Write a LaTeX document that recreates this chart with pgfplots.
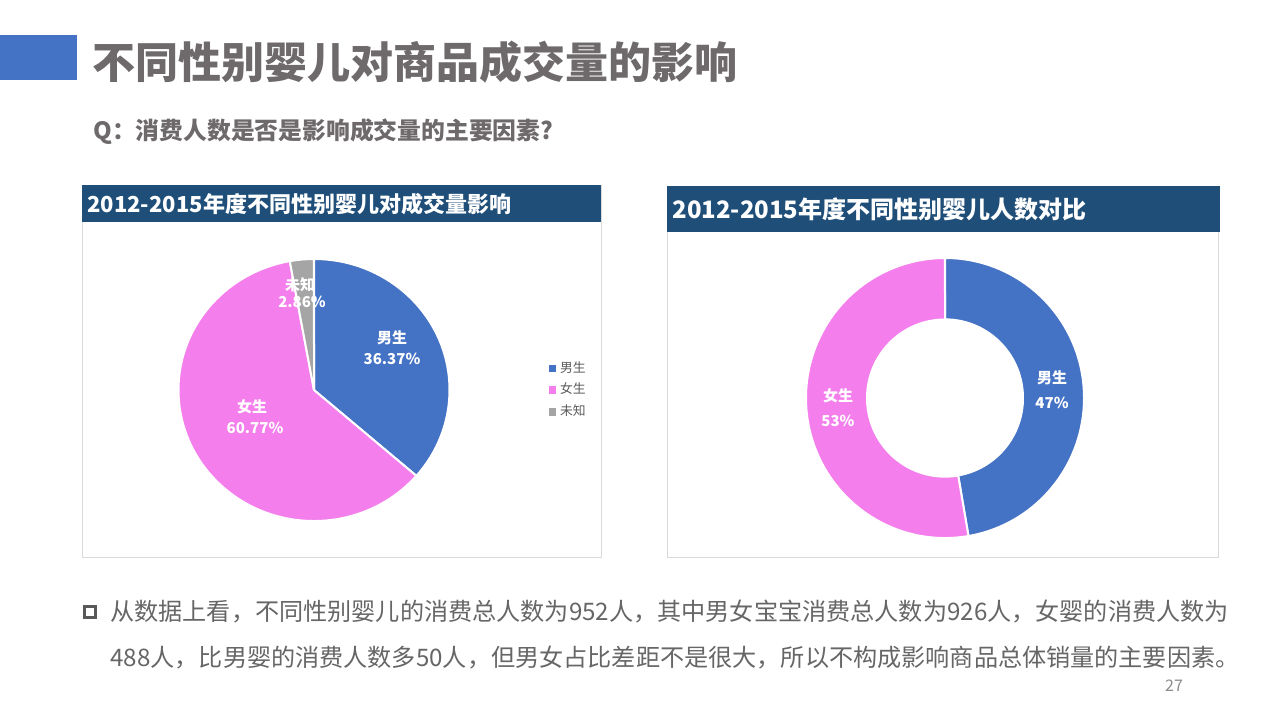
\documentclass[border=0pt]{standalone}
\usepackage{fontspec}
\setmainfont{Noto Sans CJK SC}
\usepackage{pgfplots}
\usepackage{pgfplotstable}
\pgfplotsset{compat=1.18}
\definecolor{pieblue}{HTML}{4472C4}
\definecolor{piepink}{HTML}{F47FEC}
\definecolor{piegray}{HTML}{A5A5A5}
\definecolor{hdrblue}{HTML}{1F4E79}
\definecolor{titlegray}{HTML}{6E6A6B}
\definecolor{bodygray}{HTML}{666666}
\definecolor{framegray}{HTML}{D9D9D9}
\definecolor{leggray}{HTML}{595959}
\definecolor{numgray}{HTML}{8C8C8C}

\pgfplotstableread{
name value
male 36.37
female 60.77
unknown 2.86
}\piedata
\pgfplotstableread{
name value
male 438
female 488
}\donutdata

\begin{document}
\begin{tikzpicture}[x=0.5pt,y=-0.5pt]
\pgfplotstablegetelem{0}{value}\of\piedata\let\pA\pgfplotsretval
\pgfplotstablegetelem{1}{value}\of\piedata\let\pB\pgfplotsretval
\pgfplotstablegetelem{2}{value}\of\piedata\let\pC\pgfplotsretval
\pgfmathsetmacro\pSum{\pA+\pB+\pC}
\pgfmathsetmacro\aA{90-\pA/\pSum*360}
\pgfmathsetmacro\aB{\aA-\pB/\pSum*360}
\pgfmathsetmacro\aC{\aB-\pC/\pSum*360}
\pgfplotstablegetelem{0}{value}\of\donutdata\let\dA\pgfplotsretval
\pgfplotstablegetelem{1}{value}\of\donutdata\let\dB\pgfplotsretval
\pgfmathsetmacro\dSum{\dA+\dB}
\pgfmathsetmacro\bA{90-\dA/\dSum*360}
\pgfmathsetmacro\bB{\bA-\dB/\dSum*360}

\fill[white] (0,0) rectangle (1280,720);
% title
\fill[pieblue] (0,35) rectangle (77,80);
\node[anchor=west, text=titlegray, font=\fontsize{21.5}{21.5}\selectfont\bfseries, inner sep=0] at (92,62) {不同性别婴儿对商品成交量的影响};
\node[anchor=west, text=titlegray, font=\fontsize{11.9}{11.9}\selectfont\bfseries, inner sep=0] at (93,132) {Q：消费人数是否是影响成交量的主要因素?};

% panels
\draw[framegray, line width=0.5pt] (82,185) rectangle (601,557);
\fill[hdrblue] (82,185) rectangle (601,222);
\node[anchor=west, text=white, font=\fontsize{11}{11}\selectfont\bfseries, inner sep=0] at (87,204) {2012-2015年度不同性别婴儿对成交量影响};
\draw[framegray, line width=0.5pt] (667,186) rectangle (1218,557);
\fill[hdrblue] (667,186) rectangle (1220,232);
\node[anchor=west, text=white, font=\fontsize{12}{12}\selectfont\bfseries, inner sep=0] at (672,209) {2012-2015年度不同性别婴儿人数对比};

\coordinate (pieC) at (314,390);
\coordinate (donC) at (945,398);

\begin{axis}[at={(pieC)}, anchor=center, scale only axis,
  width=135.5pt, height=131pt, xmin=-1, xmax=1, ymin=-1, ymax=1,
  hide axis, clip=false,
  legend image code/.code={\fill[#1] (0pt,-1.6pt) rectangle (3.2pt,1.6pt);},
  legend style={at={(axis description cs:1.365,0.5)}, anchor=west, draw=none, fill=none,
    font=\fontsize{6.4}{6.4}\selectfont, text=leggray, row sep=0pt, inner sep=0pt},
  legend cell align=left]
\fill[pieblue, draw=white, line width=1pt] (0,0) -- ({cos(90)},{sin(90)}) arc[start angle=90, end angle=\aA, x radius=67.75pt, y radius=65.5pt] -- cycle;
\fill[piepink, draw=white, line width=1pt] (0,0) -- ({cos(\aA)},{sin(\aA)}) arc[start angle=\aA, end angle=\aB, x radius=67.75pt, y radius=65.5pt] -- cycle;
\fill[piegray, draw=white, line width=1pt] (0,0) -- ({cos(\aB)},{sin(\aB)}) arc[start angle=\aB, end angle=\aC, x radius=67.75pt, y radius=65.5pt] -- cycle;
\addlegendimage{pieblue}\addlegendentry{男生}
\addlegendimage{piepink}\addlegendentry{女生}
\addlegendimage{piegray}\addlegendentry{未知}
\end{axis}

\begin{axis}[at={(donC)}, anchor=center, scale only axis,
  width=139pt, height=140pt, xmin=-1, xmax=1, ymin=-1, ymax=1,
  hide axis, clip=false]
\fill[pieblue, draw=white, line width=1pt] ({cos(90)},{sin(90)}) arc[start angle=90, end angle=\bA, x radius=69.5pt, y radius=70pt] -- ({0.561*cos(\bA)},{0.561*sin(\bA)}) arc[start angle=\bA, end angle=90, x radius=39pt, y radius=39.3pt] -- cycle;
\fill[piepink, draw=white, line width=1pt] ({cos(\bA)},{sin(\bA)}) arc[start angle=\bA, end angle=\bB, x radius=69.5pt, y radius=70pt] -- ({0.561*cos(\bB)},{0.561*sin(\bB)}) arc[start angle=\bB, end angle=\bA, x radius=39pt, y radius=39.3pt] -- cycle;
\end{axis}

% slice labels
\begin{scope}[every node/.style={text=white, font=\fontsize{7.5}{7.5}\selectfont\bfseries, inner sep=0}]
\node at (392,338) {男生};
\node at (392,359) {36.37\%};
\node at (252,407) {女生};
\node at (255,428) {60.77\%};
\node at (300,285) {未知};
\node at (302,302) {2.86\%};
\node at (1052,378) {男生};
\node at (1052,403) {47\%};
\node at (838,396) {女生};
\node at (838,421) {53\%};
\end{scope}

% bottom text
\draw[leggray, line width=1.4pt] (84.5,606.5) rectangle (95.5,617.5);
\node[anchor=west, text=bodygray, font=\fontsize{12.07}{12.07}\selectfont, inner sep=0] at (110,612) {从数据上看，不同性别婴儿的消费总人数为952人，其中男女宝宝消费总人数为926人，女婴的消费人数为};
\node[anchor=west, text=bodygray, font=\fontsize{12.07}{12.07}\selectfont, inner sep=0] at (110,658) {488人，比男婴的消费人数多50人，但男女占比差距不是很大，所以不构成影响商品总体销量的主要因素。};
\node[text=numgray, font=\fontsize{8}{8}\selectfont, inner sep=0] at (1174,686) {27};
\end{tikzpicture}
\end{document}
